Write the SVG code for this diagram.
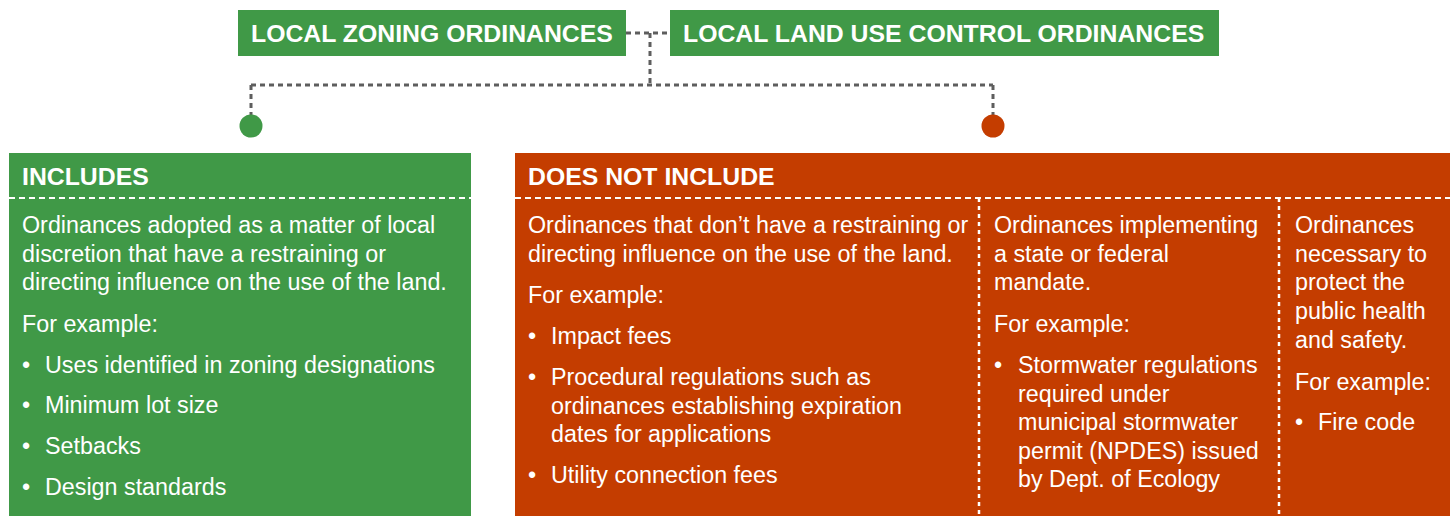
<svg xmlns="http://www.w3.org/2000/svg" width="1450" height="516" viewBox="0 0 1450 516">
  <style>
    .green { fill: #409947; }
    .orange { fill: #c43d00; }
    .title { font-family: "Liberation Sans", Arial, sans-serif; font-weight: bold; font-size: 24.8px; fill: #ffffff; }
    .body { font-family: "Liberation Sans", Arial, sans-serif; font-size: 23.3px; fill: #ffffff; }
    .conn { fill: none; stroke: #5e5e5e; stroke-width: 3; stroke-dasharray: 5 4; }
    .sep { fill: none; stroke: #ffffff; stroke-width: 2; stroke-dasharray: 6 4; }
    .vsep { fill: none; stroke: #ffffff; stroke-width: 2.5; stroke-dasharray: 4 4; }
  </style>

  <!-- top labels -->
  <g id="zoning">
    <rect class="green" x="238" y="10" width="388" height="46"/>
    <text class="title" x="251" y="42">LOCAL ZONING ORDINANCES</text>
  </g>
  <g id="landuse">
    <rect class="green" x="670" y="10" width="549" height="46"/>
    <text class="title" x="683" y="42">LOCAL LAND USE CONTROL ORDINANCES</text>
  </g>

  <!-- dashed connectors -->
  <g id="connectors">
    <path class="conn" d="M626 33 H670"/>
    <path class="conn" d="M650 33 V85"/>
    <path class="conn" d="M251 85 H993"/>
    <path class="conn" d="M251 85 V116"/>
    <path class="conn" d="M993 85 V116"/>
    <circle class="green" cx="251" cy="126" r="11.5"/>
    <circle class="orange" cx="993" cy="126" r="11.5"/>
  </g>

  <!-- includes panel -->
  <g id="includes">
    <rect class="green" x="9" y="153" width="462" height="363"/>
    <text class="title" x="22" y="185">INCLUDES</text>
    <path class="sep" d="M9 198 H471"/>
    <text class="body" x="22" y="233">Ordinances adopted as a matter of local</text>
    <text class="body" x="22" y="261.7">discretion that have a restraining or</text>
    <text class="body" x="22" y="290.4">directing influence on the use of the land.</text>
    <text class="body" x="22" y="332">For example:</text>
    <text class="body" x="22" y="373">•</text>
    <text class="body" x="45" y="373">Uses identified in zoning designations</text>
    <text class="body" x="22" y="413">•</text>
    <text class="body" x="45" y="413">Minimum lot size</text>
    <text class="body" x="22" y="454">•</text>
    <text class="body" x="45" y="454">Setbacks</text>
    <text class="body" x="22" y="495">•</text>
    <text class="body" x="45" y="495">Design standards</text>
  </g>

  <!-- does-not-include panel -->
  <g id="excludes">
    <rect class="orange" x="515" y="153" width="935" height="363"/>
    <text class="title" x="528" y="185">DOES NOT INCLUDE</text>
    <path class="sep" d="M515 198 H1450"/>
    <path class="vsep" d="M979 198 V516"/>
    <path class="vsep" d="M1279 198 V516"/>

    <text class="body" x="528" y="233">Ordinances that don’t have a restraining or</text>
    <text class="body" x="528" y="261.7">directing influence on the use of the land.</text>
    <text class="body" x="528" y="303">For example:</text>
    <text class="body" x="528" y="344">•</text>
    <text class="body" x="551" y="344">Impact fees</text>
    <text class="body" x="528" y="385">•</text>
    <text class="body" x="551" y="385">Procedural regulations such as</text>
    <text class="body" x="551" y="413.7">ordinances establishing expiration</text>
    <text class="body" x="551" y="442.4">dates for applications</text>
    <text class="body" x="528" y="483">•</text>
    <text class="body" x="551" y="483">Utility connection fees</text>

    <text class="body" x="994" y="233">Ordinances implementing</text>
    <text class="body" x="994" y="261.7">a state or federal</text>
    <text class="body" x="994" y="290.4">mandate.</text>
    <text class="body" x="994" y="332">For example:</text>
    <text class="body" x="994" y="373">•</text>
    <text class="body" x="1018" y="373">Stormwater regulations</text>
    <text class="body" x="1018" y="401.5">required under</text>
    <text class="body" x="1018" y="430">municipal stormwater</text>
    <text class="body" x="1018" y="458.5">permit (NPDES) issued</text>
    <text class="body" x="1018" y="487">by Dept. of Ecology</text>

    <text class="body" x="1295" y="233">Ordinances</text>
    <text class="body" x="1295" y="261.7">necessary to</text>
    <text class="body" x="1295" y="290.4">protect the</text>
    <text class="body" x="1295" y="319">public health</text>
    <text class="body" x="1295" y="348">and safety.</text>
    <text class="body" x="1295" y="389.5">For example:</text>
    <text class="body" x="1295" y="430">•</text>
    <text class="body" x="1318" y="430">Fire code</text>
  </g>
</svg>
